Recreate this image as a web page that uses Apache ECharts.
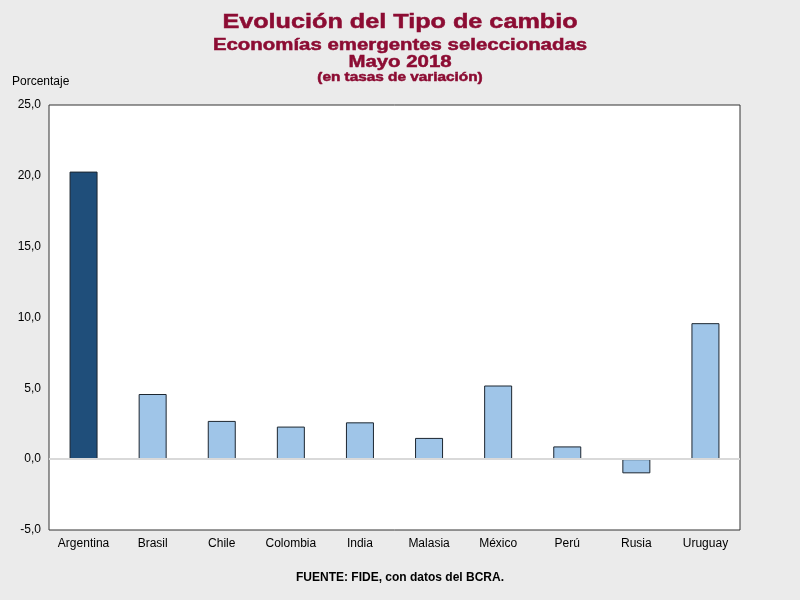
<!DOCTYPE html>
<html>
<head>
<meta charset="utf-8">
<script src="https://cdn.jsdelivr.net/npm/echarts@6/dist/echarts.min.js"></script>
<style>
  html, body { margin: 0; padding: 0; background: #ebebeb; }
  #chart { width: 800px; height: 600px; }
</style>
</head>
<body>
<div id="chart"></div>
<script>
// countries and May 2018 exchange-rate change (%)
const countries = ['Argentina', 'Brasil', 'Chile', 'Colombia', 'India', 'Malasia', 'México', 'Perú', 'Rusia', 'Uruguay']
const values = [20.3, 4.6, 2.7, 2.3, 2.6, 1.5, 5.2, 0.9, -1.0, 9.6]
const highlight = 'Argentina'

const font = '"Liberation Sans", Arial, sans-serif'
const red = '#8c0c33'

// header lines are stretched sideways in the original, so scale them
function headerLine(text, size, y, sx) {
  return {
    type: 'text',
    x: 400,
    y: y,
    scaleX: sx,
    style: {
      text: text,
      fill: red,
      stroke: red,
      lineWidth: 0.5,
      font: 'bold ' + size + 'px ' + font,
      textAlign: 'center',
      textVerticalAlign: 'middle'
    }
  }
}

const chart = echarts.init(document.getElementById('chart'))

chart.setOption({
  backgroundColor: '#ebebeb',
  animation: false,
  graphic: [
    headerLine('Evolución del Tipo de cambio', 21, 22.5, 1.2),
    headerLine('Economías emergentes seleccionadas', 17, 45.5, 1.2),
    headerLine('Mayo 2018', 17, 62, 1.2),
    headerLine('(en tasas de variación)', 13, 77.5, 1.18)
  ],
  title: [
    { text: 'Porcentaje', left: 7, top: 71,
      textStyle: { color: '#000', fontSize: 12, fontWeight: 'normal', fontFamily: font } },
    { text: 'FUENTE: FIDE, con datos del BCRA.', left: 'center', bottom: 11,
      textStyle: { color: '#000', fontSize: 12, fontWeight: 'bold', fontFamily: font } }
  ],
  grid: {
    left: 49,
    right: 60,
    top: 105,
    bottom: 70,
    show: true,
    backgroundColor: '#fff',
    borderColor: '#333',
    borderWidth: 1
  },
  xAxis: {
    type: 'category',
    data: countries,
    position: 'bottom',
    axisLine: { show: false },
    axisTick: { show: false },
    axisLabel: {
      color: '#000',
      fontSize: 12,
      fontFamily: font,
      margin: 0,
      verticalAlign: 'top',
      padding: [8, 0, 0, 0],
      interval: 0
    }
  },
  yAxis: {
    type: 'value',
    min: -5,
    max: 25,
    interval: 5,
    axisLine: { show: false },
    axisTick: { show: false },
    splitLine: { show: false },
    axisLabel: {
      color: '#000',
      fontSize: 12,
      fontFamily: font,
      margin: 8,
      formatter: v => v.toFixed(1).replace('.', ',')
    }
  },
  series: [{
    type: 'bar',
    barWidth: 28,
    data: values.map((v, i) => ({
      value: v,
      itemStyle: { color: countries[i] === highlight ? '#1f4e7a' : '#9fc5e8' }
    })),
    itemStyle: { borderColor: '#1c2630', borderWidth: 1 },
    markLine: {
      silent: true,
      symbol: ['none', 'none'],
      label: { show: false },
      lineStyle: { color: '#d9d9d9', width: 2, type: 'solid' },
      data: [{ yAxis: 0 }]
    },
    z: 3
  }]
})
</script>
</body>
</html>
